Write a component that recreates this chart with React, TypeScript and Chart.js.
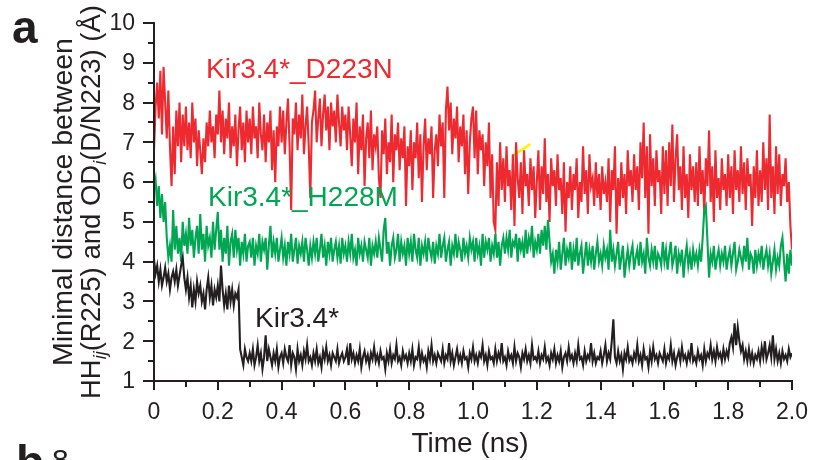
import React, { useEffect, useRef } from "react";
import { Chart, registerables } from "chart.js";

Chart.register(...registerables);

// ---- data (time step between samples, ns) ----
const TIME_STEP_NS = 0.005;
const X_MIN = 0;
const X_MAX = 2.0;
const Y_MIN = 1;
const Y_MAX = 10;
const X_TICK_VALUES = [0, 0.2, 0.4, 0.6, 0.8, 1.0, 1.2, 1.4, 1.6, 1.8, 2.0];
const X_TICK_LABELS = ["0", "0.2", "0.4", "0.6", "0.8", "1.0", "1.2", "1.4", "1.6", "1.8", "2.0"];
const Y_TICK_VALUES = [1, 2, 3, 4, 5, 6, 7, 8, 9, 10];
const Y_TICK_LABELS = ["1", "2", "3", "4", "5", "6", "7", "8", "9", "10"];

const SERIES_NAMES = ["Kir3.4*_D223N", "Kir3.4*_H228M", "Kir3.4*"];

// Kir3.4*_D223N (red)
const D223N = [
  6.8, 7.9, 8.5, 7.6, 8.8, 7.2, 8.9, 8.0, 7.1, 8.3, 6.9, 5.9, 7.4, 6.2, 7.8, 6.9, 8.0, 6.5, 7.7, 6.9,
  7.9, 6.8, 7.5, 6.6, 8.0, 7.0, 7.6, 6.4, 7.3, 6.8, 6.2, 7.1, 6.5, 7.5, 6.9, 7.8, 7.0, 7.4, 6.6, 7.7,
  7.2, 8.3, 7.0, 7.8, 6.7, 7.6, 7.1, 8.0, 6.6, 7.4, 6.9, 7.7, 6.4, 7.3, 7.9, 6.8, 7.5, 6.5, 7.8, 7.0,
  7.6, 6.7, 7.9, 7.1, 7.4, 6.6, 8.0, 7.2, 6.8, 7.7, 6.5, 7.5, 7.0, 7.8, 6.3, 7.3, 6.0, 7.4, 6.9, 7.9,
  7.0, 7.8, 6.7, 7.5, 8.1, 6.9, 5.3, 7.6, 7.2, 8.0, 6.8, 7.7, 7.1, 8.2, 6.7, 7.4, 7.9, 6.9, 5.6, 7.5,
  7.8, 8.3, 7.0, 7.6, 8.1, 6.9, 7.7, 8.2, 7.3, 7.9, 6.8, 8.0, 7.4, 7.8, 7.0, 8.2, 7.5, 6.9, 7.9, 7.3,
  7.7, 6.8, 7.9, 7.2, 6.4, 7.6, 7.0, 8.0, 6.2, 7.4, 6.8, 7.7, 5.9, 7.1, 7.5, 6.6, 7.8, 6.3, 7.2, 6.9,
  7.4, 6.1, 5.6, 7.3, 6.7, 7.6, 6.2, 7.0, 6.5, 7.7, 6.0, 7.2, 6.8, 7.5, 6.3, 7.1, 6.6, 7.4, 5.4, 6.9,
  6.4, 7.3, 5.8, 7.0, 6.6, 7.5, 6.1, 7.2, 5.5, 6.9, 7.6, 6.3, 7.1, 6.7, 7.4, 5.6, 6.8, 7.2, 6.4, 7.7,
  6.9, 7.5, 5.6, 7.8, 8.4, 7.3, 8.0, 6.7, 7.6, 7.1, 7.9, 6.5, 7.4, 6.9, 7.7, 6.2, 7.3, 5.7, 7.0, 7.6,
  7.9, 6.6, 7.8, 6.2, 7.3, 6.8, 7.2, 5.9, 7.0, 6.4, 7.5, 5.6, 6.7, 5.0, 4.8, 6.5, 5.4, 7.0, 5.8, 6.6,
  5.5, 6.9, 5.9, 6.3, 5.3, 6.7, 4.9, 7.0, 6.1, 5.6, 6.5, 5.2, 6.8, 5.9, 6.2, 5.4, 6.6, 5.8, 6.4, 5.1,
  6.0, 6.8, 5.3, 6.4, 5.7, 7.1, 5.5, 6.2, 5.0, 6.6, 5.9, 6.3, 5.4, 6.7, 5.8, 6.1, 5.2, 6.5, 4.75, 6.0,
  5.6, 6.4, 5.3, 6.2, 5.8, 6.6, 5.1, 6.0, 5.5, 6.9, 5.7, 6.3, 5.2, 6.7, 5.9, 6.1, 5.4, 6.5, 5.6, 6.2,
  5.3, 6.4, 5.7, 6.0, 5.5, 6.6, 5.0, 6.3, 5.8, 6.9, 4.7, 6.1, 5.4, 6.5, 5.6, 6.2, 5.2, 6.8, 5.9, 6.3,
  5.5, 6.7, 5.8, 6.4, 5.3, 7.0, 6.1, 7.5, 5.6, 6.9, 4.7, 7.2, 5.9, 6.6, 5.4, 6.8, 6.0, 6.3, 5.2, 6.9,
  5.7, 6.8, 5.4, 7.0, 5.9, 7.45, 5.5, 6.6, 7.2, 5.8, 6.4, 5.3, 6.9, 5.6, 6.2, 5.1, 6.7, 5.8, 6.4, 5.5,
  6.5, 5.4, 6.9, 5.7, 6.3, 5.2, 6.6, 5.9, 7.3, 5.5, 6.4, 5.0, 6.8, 5.6, 6.1, 5.3, 6.6, 5.8, 6.2, 5.4,
  6.7, 5.6, 6.4, 5.2, 6.8, 5.8, 6.3, 5.5, 6.9, 5.7, 6.5, 5.3, 6.6, 5.9, 6.2, 4.9, 6.4, 5.6, 6.8, 5.4,
  6.3, 5.5, 7.0, 5.8, 6.6, 5.3, 7.7, 5.6, 6.4, 5.2, 6.9, 5.7, 6.7, 5.4, 6.2, 5.9, 6.6, 5.5, 6.0, 4.9, 4.3,
];

// Kir3.4*_H228M (green)
const H228M = [
  5.8, 6.05, 5.4, 5.9, 5.1, 5.7, 5.0, 5.5, 4.6, 4.1, 4.4, 4.0, 5.3, 4.3, 4.9, 4.2, 4.6, 4.0, 5.0, 4.4,
  4.7, 4.2, 5.1, 4.4, 4.8, 4.1, 4.6, 4.9, 4.2, 5.2, 4.3, 4.7, 4.0, 4.9, 4.4, 4.6, 4.1, 5.0, 4.3, 4.8,
  5.25, 4.3, 4.8, 4.0, 4.6, 4.2, 4.9, 3.9, 4.5, 4.7, 4.1, 4.8, 4.3, 4.6, 3.9, 4.5, 4.2, 4.7, 4.0, 4.4,
  4.5, 4.1, 4.6, 3.9, 4.4, 4.2, 4.7, 4.0, 4.5, 4.3, 4.6, 3.8, 4.4, 4.9, 4.1, 4.5, 4.2, 4.6, 4.0, 4.3,
  4.6, 4.1, 4.4, 3.9, 4.5, 4.2, 4.7, 4.0, 4.3, 4.6, 3.95, 4.4, 4.2, 4.5, 4.0, 4.6, 4.3, 3.9, 4.4, 4.1,
  4.5, 4.2, 4.6, 4.0, 4.3, 4.7, 4.1, 4.4, 3.9, 4.5, 4.2, 4.6, 4.0, 4.3, 4.5, 4.1, 4.4, 3.95, 4.6, 4.2,
  4.4, 4.0, 4.5, 4.2, 4.7, 4.1, 4.3, 3.9, 4.6, 4.2, 4.4, 4.0, 4.5, 4.3, 4.1, 4.6, 3.9, 4.4, 4.2, 4.5,
  4.1, 4.6, 4.3, 4.0, 4.8, 5.1, 4.2, 4.5, 3.9, 4.4, 4.6, 4.1, 4.3, 4.7, 4.0, 4.5, 4.2, 4.4, 3.9, 4.6,
  4.2, 4.5, 4.0, 4.7, 4.3, 4.1, 4.6, 3.9, 4.4, 4.2, 4.5, 4.0, 4.6, 4.3, 4.1, 4.5, 3.95, 4.4, 4.2, 4.7,
  4.1, 4.4, 4.6, 4.0, 4.3, 4.5, 3.9, 4.4, 4.2, 4.7, 4.1, 4.5, 4.3, 4.0, 4.6, 4.2, 4.4, 4.1, 4.6, 4.3,
  4.5, 4.0, 4.6, 4.2, 4.4, 3.9, 4.7, 4.1, 4.5, 4.3, 4.6, 4.0, 4.4, 4.2, 4.7, 4.1, 4.5, 3.9, 4.4, 4.6,
  4.2, 4.6, 4.3, 4.8, 4.1, 4.5, 4.4, 4.7, 4.0, 4.6, 4.3, 4.5, 4.1, 4.8, 4.2, 4.6, 4.4, 4.9, 4.1, 4.5,
  4.3, 4.7, 4.2, 4.8, 4.4, 4.9, 4.3, 5.05, 4.5, 4.0, 4.2, 3.7, 4.3, 4.0, 4.5, 3.8, 4.2, 4.6, 3.9, 4.3,
  4.1, 4.5, 3.8, 4.3, 4.0, 4.6, 3.9, 4.2, 4.4, 3.7, 4.1, 4.5, 3.9, 4.3, 4.0, 4.4, 3.8, 4.2, 4.5, 4.0,
  4.2, 3.9, 4.4, 4.1, 4.3, 3.8, 4.8, 4.0, 4.3, 3.9, 4.2, 4.5, 3.8, 4.1, 4.4, 3.6, 4.0, 4.3, 3.9, 4.2,
  4.4, 3.8, 4.1, 4.3, 3.9, 4.5, 4.0, 4.2, 3.7, 4.6, 4.1, 3.9, 4.3, 4.0, 4.4, 3.8, 4.2, 4.1, 3.9, 4.5,
  4.0, 4.3, 3.8, 4.2, 4.5, 3.9, 4.1, 4.4, 3.7, 4.2, 4.0, 4.3, 3.6, 4.1, 4.4, 3.9, 4.2, 3.8, 4.3, 4.0,
  4.2, 3.9, 4.3, 4.0, 4.6, 5.3, 5.4, 4.5, 3.6, 4.2, 4.0, 4.4, 3.8, 4.1, 4.3, 3.9, 4.2, 4.0, 4.4, 3.8,
  4.1, 4.3, 3.9, 4.2, 4.5, 3.8, 4.0, 4.3, 4.1, 3.9, 4.4, 4.0, 4.6, 3.8, 4.2, 4.1, 3.7, 4.3, 3.9, 4.2,
  4.0, 4.4, 3.8, 4.1, 4.3, 3.9, 4.2, 3.7, 4.0, 4.3, 3.8, 4.1, 3.9, 4.4, 4.6, 4.0, 3.5, 4.2, 3.7, 4.3, 3.9,
];

// Kir3.4* (black)
const WT = [
  4.05, 3.7, 3.9, 3.5, 3.8, 3.4, 3.6, 3.85, 3.5, 3.7, 3.3, 3.6, 3.75, 3.5, 3.8, 3.4, 3.65, 3.9, 4.1, 3.6,
  3.3, 3.6, 3.1, 3.4, 2.85, 3.3, 3.0, 3.5, 3.2, 3.4, 3.0, 3.2, 2.8, 3.3, 3.6, 3.1, 3.4, 2.9, 3.3, 3.1,
  3.4, 3.0, 3.9, 3.3, 2.9, 3.2, 2.8, 3.4, 3.0, 3.3, 2.9, 3.2, 3.1, 3.3, 1.8, 1.6, 1.4, 1.8, 1.6, 1.5,
  1.7, 1.5, 1.8, 1.4, 1.6, 1.9, 1.5, 1.7, 1.3, 1.6, 2.15, 1.5, 1.8, 1.6, 1.4, 1.7, 1.5, 1.8, 1.35, 1.6,
  1.7, 1.45, 1.8, 1.6, 1.5, 1.9, 1.4, 1.7, 1.6, 1.3, 1.8, 1.5, 1.65, 1.4, 1.75, 1.55, 1.9, 1.5, 1.6, 1.4,
  1.7, 1.5, 1.8, 1.45, 1.6, 1.35, 1.75, 1.55, 1.85, 1.5, 1.65, 1.4, 1.7, 1.6, 1.5, 1.8, 1.45, 1.6, 1.7, 1.5,
  1.6, 1.8, 1.4, 1.95, 1.55, 1.7, 1.45, 1.65, 1.5, 1.8, 1.35, 1.6, 1.75, 1.5, 1.65, 1.4, 1.7, 1.55, 1.85, 1.5,
  1.65, 1.45, 1.75, 1.55, 1.6, 1.3, 1.7, 1.5, 1.8, 1.45, 1.65, 1.55, 1.9, 1.5, 1.6, 1.4, 1.75, 1.55, 1.65, 1.45,
  1.7, 1.5, 1.8, 1.4, 1.6, 1.55, 1.85, 1.45, 1.7, 1.5, 1.6, 1.35, 1.75, 1.55, 1.9, 1.5, 1.65, 1.45, 1.7, 1.6,
  1.5, 1.8, 1.45, 1.65, 1.55, 1.95, 1.5, 1.7, 1.4, 1.6, 1.8, 1.5, 1.65, 1.45, 1.75, 1.55, 1.6, 1.35, 1.7, 1.55,
  1.85, 1.5, 1.65, 1.45, 1.7, 1.6, 1.9, 1.5, 1.65, 1.4, 1.75, 1.55, 1.6, 1.45, 1.8, 1.5, 1.7, 1.55, 1.95, 1.5,
  1.6, 1.4, 1.75, 1.55, 1.65, 1.45, 1.85, 1.5, 1.7, 1.6, 1.35, 1.7, 1.55, 1.8, 1.5, 1.65, 1.45, 1.9, 1.55, 1.6,
  1.5, 1.75, 1.45, 1.65, 1.55, 1.85, 1.5, 1.6, 1.4, 1.7, 1.55, 1.8, 1.45, 1.65, 1.5, 1.75, 1.35, 1.6, 1.7, 1.5,
  1.85, 1.55, 1.65, 1.45, 1.7, 1.5, 1.9, 1.55, 1.6, 1.4, 1.75, 1.5, 1.65, 1.55, 1.95, 1.5, 1.7, 1.45, 1.6, 1.55,
  1.75, 1.45, 1.65, 1.9, 1.5, 1.7, 1.55, 2.0, 2.55, 1.6, 1.45, 1.75, 1.5, 1.65, 1.3, 1.7, 1.55, 1.85, 1.5, 1.6,
  1.45, 1.7, 1.55, 1.9, 1.5, 1.65, 1.4, 1.8, 1.55, 1.6, 1.35, 1.75, 1.5, 1.85, 1.55, 1.65, 1.45, 1.7, 1.6, 1.5,
  1.8, 1.45, 1.65, 1.55, 1.9, 1.5, 1.7, 1.4, 1.6, 1.75, 1.5, 1.85, 1.55, 1.65, 1.45, 1.7, 1.55, 1.95, 1.5, 1.6,
  1.45, 1.75, 1.55, 1.65, 1.4, 1.8, 1.5, 1.7, 1.6, 1.9, 1.55, 1.75, 1.5, 1.85, 1.6, 1.7, 1.5, 1.8, 1.55, 1.75,
  1.6, 1.95, 2.1, 1.85, 2.45, 1.9, 2.35, 2.0, 1.75, 1.9, 1.55, 1.75, 1.5, 1.8, 1.5, 1.7, 1.45, 1.65, 1.55, 1.75,
  1.5, 1.85, 1.6, 2.0, 1.55, 1.7, 1.9, 1.6, 2.15, 1.55, 1.8, 1.5, 1.7, 1.45, 1.75, 1.55, 1.65, 1.5, 1.8, 1.6, 1.7,
];

// small yellow stroke near 1.15 ns
const YELLOW_T = [1.124, 1.18];
const YELLOW_D = [6.66, 6.96];

const COLORS = {
  red: "#EC2A30",
  green: "#00A651",
  black: "#231F20",
  yellow: "#FFF200",
};

const FONT = "'Liberation Sans', Arial, Helvetica, sans-serif";

function toPoints(values: number[]) {
  return values.map((v, i) => ({ x: i * TIME_STEP_NS, y: v }));
}

function drawText(
  ctx: CanvasRenderingContext2D,
  s: string,
  x: number,
  y: number,
  size: number,
  color: string,
  align: CanvasTextAlign,
  baseline: CanvasTextBaseline,
  weight = "normal"
) {
  ctx.save();
  ctx.font = `${weight} ${size}px ${FONT}`;
  ctx.fillStyle = color;
  ctx.textAlign = align;
  ctx.textBaseline = baseline;
  ctx.fillText(s, x, y);
  ctx.restore();
}

const decorPlugin = {
  id: "decor",
  afterDatasetsDraw(chart: any) {
    const ctx: CanvasRenderingContext2D = chart.ctx;
    const xs = chart.scales.x;
    const ys = chart.scales.y;
    const area = chart.chartArea;
    const axisColor = COLORS.black;

    // series labels
    drawText(ctx, SERIES_NAMES[0], 206, 78, 28, COLORS.red, "left", "alphabetic");
    drawText(ctx, SERIES_NAMES[1], 208, 206, 28, COLORS.green, "left", "alphabetic");
    drawText(ctx, SERIES_NAMES[2], 255, 327, 28, COLORS.black, "left", "alphabetic");

    ctx.save();
    ctx.strokeStyle = axisColor;
    ctx.lineWidth = 2;
    ctx.lineCap = "butt";
    // y axis line
    ctx.beginPath();
    ctx.moveTo(area.left, ys.getPixelForValue(Y_MAX) - 1);
    ctx.lineTo(area.left, area.bottom + 1);
    ctx.stroke();
    // x axis line
    ctx.beginPath();
    ctx.moveTo(area.left - 1, area.bottom);
    ctx.lineTo(xs.getPixelForValue(X_MAX) + 1, area.bottom);
    ctx.stroke();

    // y ticks (major + minor)
    for (let k = 0; k <= (Y_MAX - Y_MIN) * 2; k++) {
      const v = Y_MIN + k * 0.5;
      const py = Math.round(ys.getPixelForValue(v));
      const len = k % 2 === 0 ? 11 : 6;
      ctx.beginPath();
      ctx.moveTo(area.left - len, py);
      ctx.lineTo(area.left, py);
      ctx.stroke();
    }
    // x ticks (major + minor)
    for (let k = 0; k <= Math.round((X_MAX - X_MIN) * 10); k++) {
      const v = X_MIN + k * 0.1;
      const px = Math.round(xs.getPixelForValue(v));
      const len = k % 2 === 0 ? 9 : 6;
      ctx.beginPath();
      ctx.moveTo(px, area.bottom);
      ctx.lineTo(px, area.bottom + len);
      ctx.stroke();
    }
    ctx.restore();

    // tick labels
    Y_TICK_VALUES.forEach((v, i) => {
      drawText(ctx, Y_TICK_LABELS[i], area.left - 19, ys.getPixelForValue(v) + 1, 23, axisColor, "right", "middle");
    });
    X_TICK_VALUES.forEach((v, i) => {
      drawText(ctx, X_TICK_LABELS[i], xs.getPixelForValue(v), 419, 23, axisColor, "center", "alphabetic");
    });

    // x title
    drawText(ctx, "Time (ns)", (area.left + area.right) / 2 - 3, 452, 28, axisColor, "center", "alphabetic");

    // y title (rotated, with subscripts)
    ctx.save();
    const cy = (ys.getPixelForValue(Y_MAX) + area.bottom) / 2;
    ctx.translate(0, cy);
    ctx.rotate(-Math.PI / 2);
    ctx.fillStyle = axisColor;
    ctx.textBaseline = "alphabetic";
    ctx.textAlign = "center";
    ctx.font = `normal 28.5px ${FONT}`;
    ctx.fillText("Minimal distance between", 0, 72);
    const parts: { t: string; sub: boolean }[] = [
      { t: "HH", sub: false },
      { t: "ij", sub: true },
      { t: "(R225) and OD", sub: false },
      { t: "i", sub: true },
      { t: "(D/N223) (\u00C5)", sub: false },
    ];
    const mainFont = `normal 27.5px ${FONT}`;
    const subFont = `italic 18px ${FONT}`;
    let total = 0;
    parts.forEach((p) => {
      ctx.font = p.sub ? subFont : mainFont;
      total += ctx.measureText(p.t).width;
    });
    let x = -total / 2;
    ctx.textAlign = "left";
    parts.forEach((p) => {
      ctx.font = p.sub ? subFont : mainFont;
      ctx.fillText(p.t, x, p.sub ? 106 : 100);
      x += ctx.measureText(p.t).width;
    });
    ctx.restore();

    // panel letters
    drawText(ctx, "a", 12, 43, 46, axisColor, "left", "alphabetic", "bold");
    drawText(ctx, "b", 16, 478, 46, axisColor, "left", "alphabetic", "bold");
    drawText(ctx, "8", 52, 470, 30, axisColor, "left", "alphabetic");
  },
};

export default function App() {
  const canvasRef = useRef<HTMLCanvasElement | null>(null);

  useEffect(() => {
    const canvas = canvasRef.current;
    if (!canvas) return;
    const chart = new Chart(canvas, {
      type: "line",
      data: {
        datasets: [
          {
            label: "yellow",
            data: YELLOW_T.map((t, i) => ({ x: t, y: YELLOW_D[i] })),
            borderColor: COLORS.yellow,
            borderWidth: 2.5,
            pointRadius: 0,
            order: 4,
          },
          {
            label: SERIES_NAMES[0],
            data: toPoints(D223N),
            borderColor: COLORS.red,
            borderWidth: 2.1,
            pointRadius: 0,
            order: 3,
          },
          {
            label: SERIES_NAMES[1],
            data: toPoints(H228M),
            borderColor: COLORS.green,
            borderWidth: 2.1,
            pointRadius: 0,
            order: 2,
          },
          {
            label: SERIES_NAMES[2],
            data: toPoints(WT),
            borderColor: COLORS.black,
            borderWidth: 2.1,
            pointRadius: 0,
            order: 1,
          },
        ],
      },
      options: {
        animation: false,
        responsive: false,
        maintainAspectRatio: false,
        devicePixelRatio: 1,
        layout: { padding: { left: 154, top: 23, right: 21, bottom: 79 } },
        elements: { line: { tension: 0, borderJoinStyle: "miter" } },
        plugins: {
          legend: { display: false },
          tooltip: { enabled: false },
          title: { display: false },
        },
        scales: {
          x: { type: "linear", min: X_MIN, max: X_MAX, display: false },
          y: { type: "linear", min: Y_MIN, max: Y_MAX, display: false },
        },
      },
      plugins: [decorPlugin],
    });
    return () => chart.destroy();
  }, []);

  return (
    <div style={{ position: "absolute", left: 0, top: 0, width: 813, height: 460, background: "#fff" }}>
      <canvas ref={canvasRef} width={813} height={460} style={{ display: "block" }} />
    </div>
  );
}
